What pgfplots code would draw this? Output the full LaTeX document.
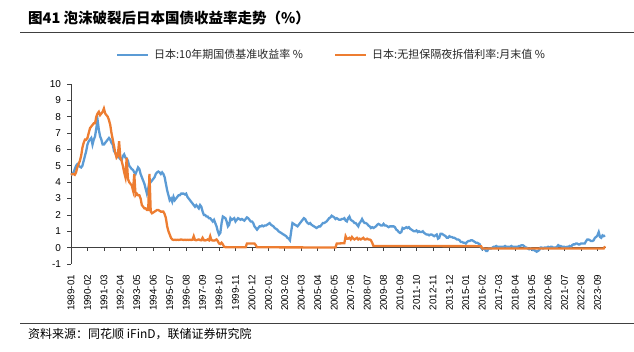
\documentclass[border=0pt]{standalone}
\usepackage{fontspec}
\setmainfont{Liberation Sans}
\newfontfamily\cjk{Noto Sans CJK SC}
\usepackage{pgfplots}
\pgfplotsset{compat=1.18}
\definecolor{blu}{HTML}{5B9BD5}
\definecolor{ora}{HTML}{ED7D31}
\begin{document}
\begin{tikzpicture}[x=1pt,y=1pt]
\useasboundingbox (0,0) rectangle (634,352);
\node[anchor=west, inner sep=0] at (28,334) {\cjk\bfseries\fontsize{14.5}{16}\selectfont 图41 泡沫破裂后日本国债收益率走势（\%）};
\draw[line width=1pt, color=black!75] (20,319.7) -- (634,319.7);
\draw[line width=0.8pt, color=black!75] (20,29) -- (634,29);
\node[anchor=west, inner sep=0] at (28,18) {\cjk\fontsize{12}{14}\selectfont 资料来源：同花顺 iFinD，联储证券研究院};
\begin{axis}[
  at={(71pt,88pt)}, anchor=south west,
  scale only axis, width=535.3pt, height=180pt,
  xmin=0, xmax=423, ymin=-1, ymax=10,
  axis y line*=left, axis x line*=bottom,
  x axis line style={draw=none},
  y axis line style={black!75, line width=0.8pt},
  xtick={0,13,...,416},
  xticklabels={1989-01,1990-02,1991-03,1992-04,1993-05,1994-06,1995-07,1996-08,1997-09,1998-10,1999-11,2000-12,2002-01,2003-02,2004-03,2005-04,2006-05,2007-06,2008-07,2009-08,2010-09,2011-10,2012-11,2013-12,2015-01,2016-02,2017-03,2018-04,2019-05,2020-06,2021-07,2022-08,2023-09},
  xtick style={draw=none},
  x tick label style={rotate=90, anchor=east, font=\fontsize{9.8}{11}\selectfont},
  xticklabel shift=4pt,
  ytick={-1,0,...,10},
  y tick label style={font=\fontsize{10}{12}\selectfont},
  yticklabel shift=3pt,
  tick align=outside, major tick length=3.5pt,
  ytick style={black!75, line width=0.8pt},
  /pgf/number format/assume math mode=true,
  extra y ticks={0}, extra y tick labels={},
  extra y tick style={grid=major, major grid style={black!75, line width=0.8pt}, ytick style={draw=none}},
  clip=false,
  legend style={at={(0.078,1.161)}, anchor=west, draw=none, fill=none, legend columns=2,
    font=\cjk\fontsize{11}{13}\selectfont, text=black!85,
    /tikz/every even column/.append style={column sep=29pt},
    /tikz/every odd column/.append style={column sep=3pt}},
  legend image code/.code={\draw[#1, line width=2.2pt] (0pt,0pt) -- (31pt,0pt);},
]
\pgfplotsinvokeforeach{0,13,...,416}{\draw[black!75, line width=0.8pt] (axis cs:#1,0) -- ([yshift=-3.5pt]axis cs:#1,0);}
\addplot[blu, line width=2.3pt, no markers] coordinates {
(0,4.45)(1,4.5)(2,4.6)(3,4.8)(4,5.0)(5,5.1)(6,5.0)(7,4.95)(8,4.9)(9,5.0)(10,5.3)(11,5.6)
(12,5.9)(13,6.3)(14,6.5)(15,6.6)(16,6.7)(17,6.3)(18,6.6)(19,6.8)(20,7.3)(21,7.8)(22,7.2)(23,6.8)
(24,6.6)(25,6.3)(26,6.3)(27,6.4)(28,6.5)(29,6.6)(30,6.7)(31,6.6)(32,6.4)(33,6.3)(34,5.9)(35,5.8)
(36,5.6)(37,5.7)(38,5.5)(39,5.4)(40,5.35)(41,5.6)(42,5.7)(43,5.5)(44,5.45)(45,5.3)(46,5.0)(47,4.9)
(48,4.8)(49,4.75)(50,4.6)(51,4.5)(52,4.7)(53,4.9)(54,4.8)(55,4.5)(56,4.3)(57,4.1)(58,3.9)(59,3.6)
(60,3.3)(61,3.6)(62,4.0)(63,4.0)(64,4.1)(65,4.2)(66,4.3)(67,4.5)(68,4.6)(69,4.65)(70,4.6)(71,4.5)
(72,4.6)(73,4.5)(74,4.3)(75,3.9)(76,3.5)(77,3.2)(78,2.9)(79,3.0)(80,2.8)(81,3.1)(82,2.9)(83,3.0)
(84,3.1)(85,3.2)(86,3.2)(87,3.3)(88,3.3)(89,3.3)(90,3.25)(91,3.3)(92,3.1)(93,3.0)(94,2.9)(95,2.8)
(96,2.7)(97,2.6)(98,2.5)(99,2.6)(100,2.5)(101,2.4)(102,2.6)(103,2.5)(104,2.2)(105,2.0)(106,2.0)(107,1.9)
(108,1.9)(109,1.8)(110,1.8)(111,1.7)(112,1.6)(113,1.7)(114,1.5)(115,1.3)(116,1.0)(117,0.8)(118,0.9)(119,1.5)
(120,1.9)(121,1.85)(122,1.8)(123,1.6)(124,1.3)(125,1.4)(126,1.8)(127,1.7)(128,1.75)(129,1.8)(130,1.6)(131,1.7)
(132,1.8)(133,1.75)(134,1.7)(135,1.75)(136,1.7)(137,1.65)(138,1.75)(139,1.85)(140,1.8)(141,1.7)(142,1.6)(143,1.6)
(144,1.5)(145,1.3)(146,1.2)(147,1.1)(148,1.2)(149,1.3)(150,1.3)(151,1.35)(152,1.3)(153,1.35)(154,1.35)(155,1.4)
(156,1.45)(157,1.5)(158,1.4)(159,1.35)(160,1.3)(161,1.2)(162,1.15)(163,1.1)(164,1.0)(165,0.95)(166,0.9)(167,0.85)
(168,0.8)(169,0.75)(170,0.7)(171,0.6)(172,0.55)(173,0.45)(174,1.0)(175,1.5)(176,1.45)(177,1.4)(178,1.35)(179,1.3)
(180,1.4)(181,1.5)(182,1.6)(183,1.7)(184,1.8)(185,1.75)(186,1.6)(187,1.5)(188,1.45)(189,1.5)(190,1.4)(191,1.35)
(192,1.3)(193,1.25)(194,1.2)(195,1.25)(196,1.3)(197,1.3)(198,1.4)(199,1.5)(200,1.5)(201,1.55)(202,1.6)(203,1.7)
(204,1.8)(205,1.85)(206,1.95)(207,1.9)(208,1.85)(209,1.75)(210,1.8)(211,1.75)(212,1.7)(213,1.7)(214,1.75)(215,1.75)
(216,1.8)(217,1.65)(218,1.6)(219,1.8)(220,1.9)(221,1.7)(222,1.65)(223,1.6)(224,1.5)(225,1.5)(226,1.4)(227,1.3)
(228,1.5)(229,1.6)(230,1.75)(231,1.6)(232,1.5)(233,1.5)(234,1.45)(235,1.35)(236,1.3)(237,1.2)(238,1.25)(239,1.2)
(240,1.25)(241,1.3)(242,1.4)(243,1.45)(244,1.4)(245,1.35)(246,1.35)(247,1.45)(248,1.35)(249,1.35)(250,1.3)(251,1.25)
(252,1.3)(253,1.3)(254,1.3)(255,1.3)(256,1.25)(257,1.1)(258,1.05)(259,0.95)(260,0.9)(261,0.95)(262,1.2)(263,1.15)
(264,1.2)(265,1.25)(266,1.2)(267,1.25)(268,1.15)(269,1.1)(270,1.05)(271,1.0)(272,1.0)(273,1.05)(274,0.95)(275,1.0)
(276,0.95)(277,0.95)(278,1.0)(279,0.9)(280,0.85)(281,0.8)(282,0.8)(283,0.75)(284,0.8)(285,0.8)(286,0.75)(287,0.7)
(288,0.75)(289,0.8)(290,0.55)(291,0.6)(292,0.85)(293,0.85)(294,0.8)(295,0.75)(296,0.7)(297,0.6)(298,0.6)(299,0.7)
(300,0.65)(301,0.65)(302,0.6)(303,0.6)(304,0.55)(305,0.5)(306,0.5)(307,0.45)(308,0.35)(309,0.35)(310,0.3)(311,0.3)
(312,0.25)(313,0.35)(314,0.4)(315,0.4)(316,0.45)(317,0.45)(318,0.4)(319,0.35)(320,0.3)(321,0.3)(322,0.25)(323,0.2)
(324,0.0)(325,-0.1)(326,-0.05)(327,-0.1)(328,-0.2)(329,-0.2)(330,-0.05)(331,-0.05)(332,-0.05)(333,0.0)(334,0.05)(335,0.05)
(336,0.1)(337,0.05)(338,0.05)(339,0.05)(340,0.05)(341,0.05)(342,0.05)(343,0.1)(344,0.05)(345,0.05)(346,0.05)(347,0.05)
(348,0.1)(349,0.05)(350,0.05)(351,0.05)(352,0.05)(353,0.05)(354,0.1)(355,0.1)(356,0.15)(357,0.15)(358,0.1)(359,0.0)
(360,0.0)(361,-0.05)(362,-0.1)(363,-0.05)(364,-0.1)(365,-0.15)(366,-0.15)(367,-0.2)(368,-0.25)(369,-0.2)(370,-0.15)(371,0.0)
(372,0.0)(373,-0.05)(374,0.0)(375,0.0)(376,0.0)(377,0.05)(378,0.0)(379,0.05)(380,0.05)(381,0.0)(382,0.0)(383,0.0)
(384,0.05)(385,0.15)(386,0.1)(387,0.1)(388,0.05)(389,0.05)(390,0.05)(391,0.0)(392,0.05)(393,0.05)(394,0.1)(395,0.05)
(396,0.15)(397,0.2)(398,0.2)(399,0.25)(400,0.25)(401,0.2)(402,0.2)(403,0.25)(404,0.25)(405,0.25)(406,0.25)(407,0.4)
(408,0.5)(409,0.5)(410,0.45)(411,0.4)(412,0.4)(413,0.45)(414,0.6)(415,0.65)(416,0.75)(417,0.95)(418,0.65)(419,0.6)
(420,0.75)(421,0.7)(422,0.75)
};
\addlegendentry{日本:10年期国债基准收益率 \%}
\addplot[ora, line width=2.3pt, no markers] coordinates {
(0,4.45)(1,4.5)(2,4.5)(3,4.45)(4,4.6)(5,4.9)(6,5.1)(7,5.3)(8,5.6)(9,6.1)(10,6.4)(11,6.6)
(12,6.6)(13,6.7)(14,7.0)(15,7.3)(16,7.4)(17,7.5)(18,7.6)(19,7.6)(20,8.0)(21,8.2)(22,8.3)(23,8.1)
(24,8.2)(25,8.3)(26,8.5)(27,8.2)(28,8.1)(29,8.0)(30,7.8)(31,7.5)(32,7.0)(33,6.6)(34,6.2)(35,5.8)
(36,5.5)(37,5.6)(38,6.5)(39,5.5)(40,5.3)(41,5.0)(42,4.6)(43,4.3)(44,5.5)(45,4.2)(46,4.0)(47,3.9)
(48,3.8)(49,3.5)(50,4.5)(51,3.2)(52,3.3)(53,3.2)(54,3.2)(55,3.0)(56,2.6)(57,2.5)(58,2.4)(59,2.4)
(60,2.3)(61,2.3)(62,4.5)(63,2.2)(64,2.1)(65,2.15)(66,2.2)(67,2.25)(68,2.3)(69,2.3)(70,2.25)(71,2.2)
(72,2.2)(73,2.2)(74,2.05)(75,1.8)(76,1.3)(77,1.0)(78,0.8)(79,0.6)(80,0.5)(81,0.47)(82,0.48)(83,0.47)
(84,0.48)(85,0.47)(86,0.48)(87,0.5)(88,0.48)(89,0.47)(90,0.48)(91,0.47)(92,0.48)(93,0.47)(94,0.48)(95,0.47)
(96,0.48)(97,0.7)(98,0.47)(99,0.45)(100,0.48)(101,0.5)(102,0.46)(103,0.45)(104,0.6)(105,0.45)(106,0.44)(107,0.46)
(108,0.5)(109,0.45)(110,0.7)(111,0.45)(112,0.44)(113,0.43)(114,0.45)(115,0.5)(116,0.4)(117,0.25)(118,0.22)(119,0.3)
(120,0.2)(121,0.05)(122,0.03)(138,0.02)(139,0.25)(145,0.25)(146,0.15)(147,0.02)(209,0.01)(210,0.25)(216,0.27)
(217,0.7)(218,0.55)(219,0.55)(220,0.6)(221,0.5)(222,0.65)(223,0.55)(224,0.5)(225,0.55)(226,0.6)(227,0.5)
(228,0.55)(229,0.5)(230,0.55)(231,0.6)(232,0.5)(233,0.5)(234,0.55)(235,0.5)(236,0.5)(237,0.45)(238,0.3)(239,0.1)
(324,0.09)(325,-0.05)(421,-0.05)(422,0.08)
};
\addlegendentry{日本:无担保隔夜拆借利率:月末值 \%}
\end{axis}
\end{tikzpicture}
\end{document}
